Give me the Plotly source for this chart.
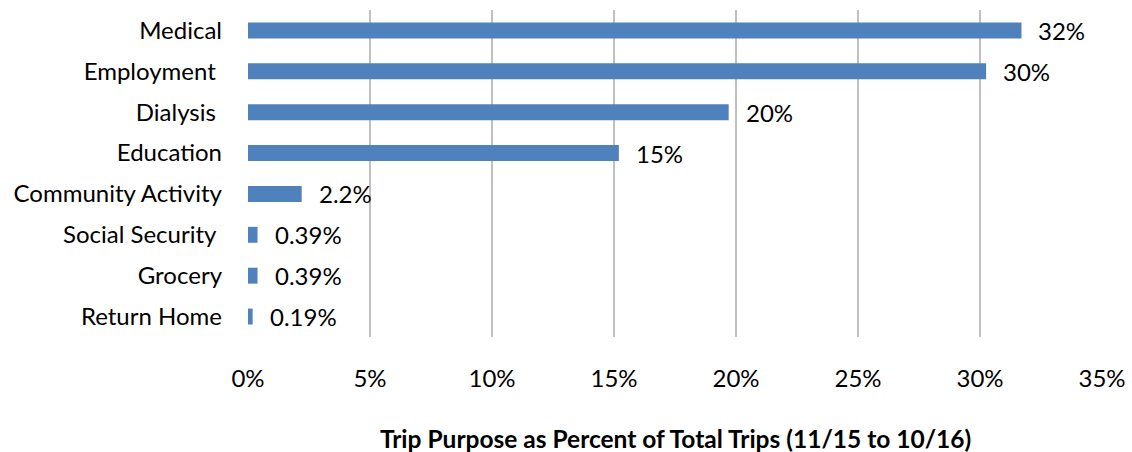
import plotly.graph_objects as go

categories = ["Medical", "Employment ", "Dialysis ", "Education", "Community Activity",
              "Social Security ", "Grocery", "Return Home"]
values = [31.7, 30.25, 19.7, 15.2, 2.2, 0.39, 0.39, 0.19]
value_labels = ["32%", "30%", "20%", "15%", "2.2%", "0.39%", "0.39%", "0.19%"]
tick_vals = [0, 5, 10, 15, 20, 25, 30, 35]
tick_text = ["0%", "5%", "10%", "15%", "20%", "25%", "30%", "35%"]
title_text = "Trip Purpose as Percent of Total Trips (11/15 to 10/16)"

FONT = "Lato, Carlito, Calibri, sans-serif"
FS = 24

fig = go.Figure()
fig.add_trace(go.Bar(
    x=values, y=categories, orientation="h",
    marker=dict(color="#4f81bd", line=dict(width=0)),
    hoverinfo="skip",
))

for c, v, t in zip(categories, values, value_labels):
    fig.add_annotation(x=v, y=c, text=t, showarrow=False, xanchor="left",
                       xshift=15, font=dict(family=FONT, size=FS, color="#000"))

fig.add_annotation(text=f"<b>{title_text}</b>", xref="paper", yref="paper",
                   x=0.5, y=0, yshift=-101, yanchor="middle", showarrow=False,
                   font=dict(family=FONT, size=24.5, color="#000"))

fig.update_layout(
    width=1132, height=452,
    margin=dict(l=248, r=30, t=10, b=115, autoexpand=False),
    paper_bgcolor="white", plot_bgcolor="white",
    bargap=0.61,
    showlegend=False,
    font=dict(family=FONT, size=FS, color="#000"),
)
fig.update_xaxes(range=[0, 35], tickvals=tick_vals, ticktext=tick_text,
                 showgrid=True, gridcolor="#c0c0c0", gridwidth=2,
                 zeroline=False, showline=False, ticks="",
                 ticklabelstandoff=25, tickfont=dict(family=FONT, size=FS))
fig.update_yaxes(autorange="reversed", showgrid=False, showline=False,
                 ticks="", ticklabelstandoff=25, tickfont=dict(family=FONT, size=FS))

fig.write_html("out.html", config={"displayModeBar": False},
               post_script="document.body.style.margin='0';")
